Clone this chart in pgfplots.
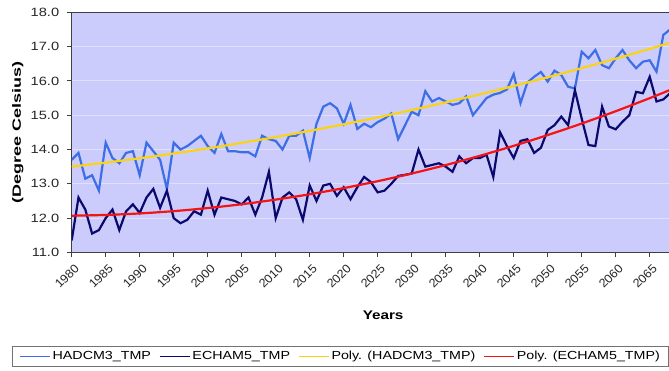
\documentclass[border=0pt]{standalone}
\usepackage{fontspec}
\setmainfont[FakeStretch=1.22]{Liberation Sans}
\newfontfamily\ylabfont[FakeStretch=1.5]{Liberation Sans}
\newfontfamily\xtickfont[FakeStretch=1.05]{Liberation Sans}
\usepackage{pgfplots}
\pgfplotsset{compat=1.18}
\definecolor{plotbg}{RGB}{204,204,252}
\definecolor{gridc}{RGB}{224,224,252}
\definecolor{hadc}{RGB}{60,110,230}
\definecolor{echc}{RGB}{10,10,110}
\definecolor{polyy}{RGB}{250,212,20}
\definecolor{polyr}{RGB}{245,20,20}
\begin{document}
\begin{tikzpicture}
\begin{axis}[
  at={(0,0)}, anchor=south west,
  scale only axis, width=600bp, height=240.1bp,
  xmin=1980, xmax=2068.235, ymin=11, ymax=18,
  axis background/.style={fill=plotbg},
  xtick={1980,1985,...,2065}, ytick={11,12,...,18},
  ymajorgrids, grid style={color=gridc, line width=0.8bp},
  tick align=outside, xtick pos=bottom, ytick pos=left,
  major tick length=5bp,
  tick style={color=black!75, line width=0.8bp},
  axis line style={color=black!75, line width=1bp},
  /pgf/number format/assume math mode=true,
  every tick label/.append style={font=\fontsize{12bp}{14bp}\selectfont, color=black!85},
  xticklabel style={font=\xtickfont\fontsize{12bp}{14bp}\selectfont, /pgf/number format/1000 sep={}, xshift=6bp, yshift=-8bp, rotate=45, anchor=east, inner sep=1bp},
  yticklabel style={xshift=-4bp, /pgf/number format/fixed, /pgf/number format/precision=1, /pgf/number format/fixed zerofill},
  xlabel={\fontsize{12.5bp}{14bp}\selectfont\textbf{Years}},
  ylabel={\ylabfont\fontsize{12bp}{14bp}\selectfont\textbf{(Degree Celsius)}},
  every axis x label/.style={at={(axis description cs:0.519,-0.261)}, anchor=center},
  every axis y label/.style={at={(axis description cs:-0.09,0.5)}, anchor=center, rotate=90},
  legend columns=4,
  legend style={at={(axis description cs:0.448,-0.39)}, anchor=north, draw=black!55, line width=0.8bp,
    font=\fontsize{11.7bp}{13bp}\selectfont, inner xsep=7bp, inner ysep=3bp,
    /tikz/every even column/.append style={column sep=6bp}},
  legend image code/.code={\draw[#1, line width=1.5bp] (0bp,0bp) -- (30bp,0bp);},
  legend cell align=left,
]
\addplot[hadc, line width=2.2bp] coordinates {
(1980,13.7)(1981,13.9)(1982,13.15)(1983,13.25)(1984,12.8)(1985,14.2)(1986,13.75)(1987,13.6)(1988,13.9)(1989,13.95)
(1990,13.25)(1991,14.2)(1992,13.95)(1993,13.7)(1994,12.85)(1995,14.2)(1996,14.0)(1997,14.1)(1998,14.25)(1999,14.4)
(2000,14.1)(2001,13.9)(2002,14.45)(2003,13.95)(2004,13.95)(2005,13.92)(2006,13.92)(2007,13.8)(2008,14.4)(2009,14.3)
(2010,14.25)(2011,14.0)(2012,14.4)(2013,14.4)(2014,14.55)(2015,13.75)(2016,14.75)(2017,15.25)(2018,15.35)(2019,15.2)
(2020,14.75)(2021,15.3)(2022,14.6)(2023,14.75)(2024,14.65)(2025,14.8)(2026,14.9)(2027,15.05)(2028,14.3)(2029,14.7)
(2030,15.1)(2031,15.0)(2032,15.7)(2033,15.4)(2034,15.5)(2035,15.4)(2036,15.3)(2037,15.35)(2038,15.55)(2039,15.0)
(2040,15.25)(2041,15.5)(2042,15.6)(2043,15.65)(2044,15.75)(2045,16.2)(2046,15.35)(2047,15.95)(2048,16.12)(2049,16.26)
(2050,15.98)(2051,16.3)(2052,16.17)(2053,15.83)(2054,15.78)(2055,16.85)(2056,16.66)(2057,16.9)(2058,16.46)(2059,16.37)
(2060,16.66)(2061,16.9)(2062,16.6)(2063,16.37)(2064,16.56)(2065,16.6)(2066,16.27)(2067,17.34)(2068,17.5)
};
\addlegendentry{HADCM3\_TMP}
\addplot[echc, line width=2.2bp] coordinates {
(1980,11.35)(1981,12.6)(1982,12.25)(1983,11.55)(1984,11.65)(1985,12.0)(1986,12.25)(1987,11.65)(1988,12.2)(1989,12.4)
(1990,12.15)(1991,12.6)(1992,12.85)(1993,12.3)(1994,12.8)(1995,12.0)(1996,11.85)(1997,11.95)(1998,12.2)(1999,12.1)
(2000,12.8)(2001,12.1)(2002,12.6)(2003,12.55)(2004,12.5)(2005,12.4)(2006,12.6)(2007,12.1)(2008,12.6)(2009,13.35)
(2010,12.0)(2011,12.6)(2012,12.75)(2013,12.55)(2014,11.95)(2015,12.95)(2016,12.5)(2017,12.95)(2018,13.0)(2019,12.65)
(2020,12.9)(2021,12.55)(2022,12.9)(2023,13.2)(2024,13.05)(2025,12.75)(2026,12.8)(2027,13.0)(2028,13.23)(2029,13.26)
(2030,13.3)(2031,14.0)(2032,13.5)(2033,13.55)(2034,13.6)(2035,13.5)(2036,13.35)(2037,13.8)(2038,13.6)(2039,13.75)
(2040,13.75)(2041,13.85)(2042,13.2)(2043,14.5)(2044,14.1)(2045,13.75)(2046,14.25)(2047,14.3)(2048,13.9)(2049,14.05)
(2050,14.57)(2051,14.71)(2052,14.96)(2053,14.71)(2054,15.73)(2055,14.9)(2056,14.13)(2057,14.1)(2058,15.25)(2059,14.67)
(2060,14.59)(2061,14.81)(2062,15.0)(2063,15.68)(2064,15.64)(2065,16.12)(2066,15.4)(2067,15.46)(2068,15.64)
};
\addlegendentry{ECHAM5\_TMP}
\addplot[polyy, line width=2.2bp, smooth] coordinates {
(1980,13.500)(1985,13.617)(1990,13.745)(1995,13.884)(2000,14.033)(2005,14.193)(2010,14.363)(2015,14.544)
(2020,14.735)(2025,14.937)(2030,15.150)(2035,15.373)(2040,15.607)(2045,15.851)(2050,16.106)(2055,16.372)
(2060,16.648)(2065,16.935)(2068,17.112)
};
\addlegendentry{Poly. (HADCM3\_TMP)}
\addplot[polyr, line width=2.2bp, smooth] coordinates {
(1980,12.070)(1985,12.092)(1990,12.136)(1995,12.203)(2000,12.293)(2005,12.404)(2010,12.539)(2015,12.695)
(2020,12.874)(2025,13.076)(2030,13.300)(2035,13.546)(2040,13.815)(2045,14.107)(2050,14.421)(2055,14.757)
(2060,15.116)(2065,15.497)(2068,15.736)
};
\addlegendentry{Poly. (ECHAM5\_TMP)}
\end{axis}
\pgfresetboundingbox
\path[use as bounding box] (-71.7bp,-118.6bp) rectangle (597.3bp,252.4bp);
\end{tikzpicture}
\end{document}
